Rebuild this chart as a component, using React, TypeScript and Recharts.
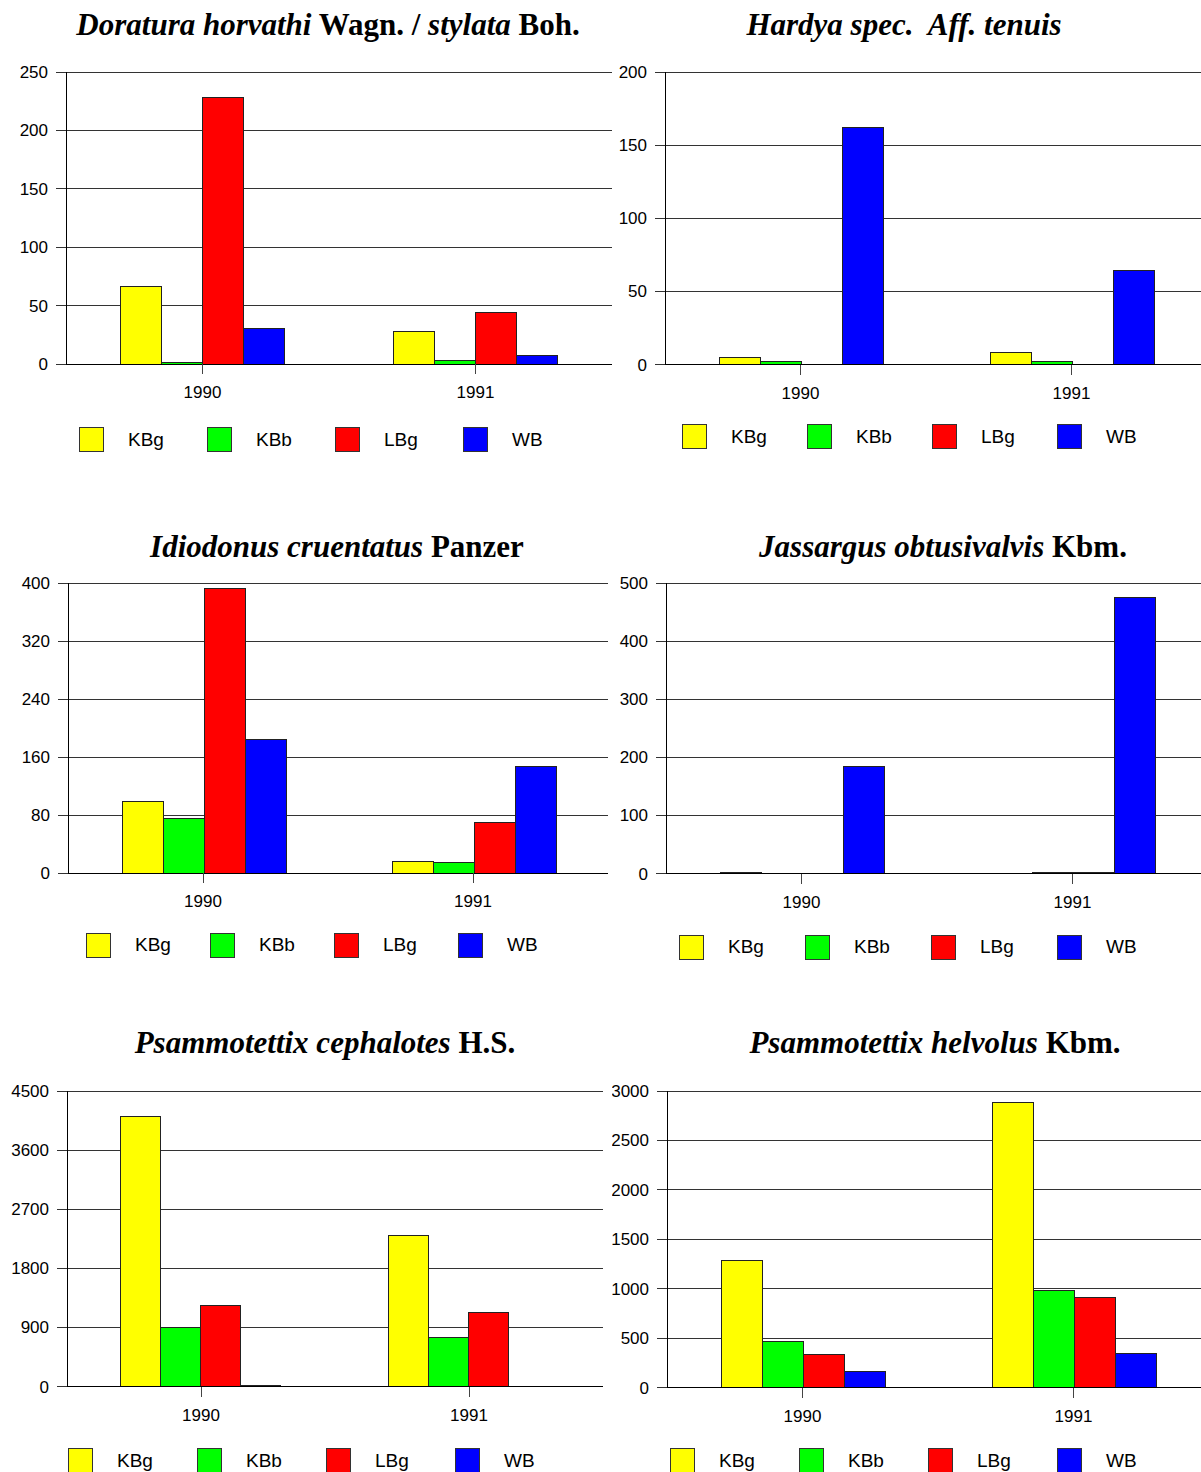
import React from "react";
import { BarChart, Bar, XAxis, YAxis, CartesianGrid, Legend } from "recharts";

const years = ["1990", "1991"];
const sites = ["KBg", "KBb", "LBg", "WB"];
const siteColors = ["#ffff00", "#00ff00", "#ff0000", "#0000ff"];

// counts per site (KBg, KBb, LBg, WB), each as [1990, 1991]
const doratura = [[66, 28], [1, 3], [228, 44], [30, 7]];
const hardya = [[5, 8], [2, 2], [0, 0], [162, 64]];
const idiodonus = [[99, 16], [75, 14], [393, 69], [184, 147]];
const jassargus = [[1, 0], [0, 1], [0, 1], [184, 475]];
const cephalotes = [[4110, 2300], [900, 750], [1230, 1125], [8, 3]];
const helvolus = [[1285, 2885], [468, 982], [338, 908], [160, 341]];

const doraturaTicks = [0, 50, 100, 150, 200, 250];
const hardyaTicks = [0, 50, 100, 150, 200];
const idiodonusTicks = [0, 80, 160, 240, 320, 400];
const jassargusTicks = [0, 100, 200, 300, 400, 500];
const cephalotesTicks = [0, 900, 1800, 2700, 3600, 4500];
const helvolusTicks = [0, 500, 1000, 1500, 2000, 2500, 3000];

// title pieces: [text, italic]
const doraturaTitle: [string, boolean][] = [["Doratura horvathi", true], [" Wagn. / ", false], ["stylata", true], [" Boh.", false]];
const hardyaTitle: [string, boolean][] = [["Hardya spec.  Aff. tenuis", true]];
const idiodonusTitle: [string, boolean][] = [["Idiodonus cruentatus", true], [" Panzer", false]];
const jassargusTitle: [string, boolean][] = [["Jassargus obtusivalvis", true], [" Kbm.", false]];
const cephalotesTitle: [string, boolean][] = [["Psammotettix cephalotes", true], [" H.S.", false]];
const helvolusTitle: [string, boolean][] = [["Psammotettix helvolus", true], [" Kbm.", false]];

const sans = "Arial, 'Liberation Sans', sans-serif";
const serif = "'Times New Roman', 'Liberation Serif', serif";

type Box = {
  left: number;
  axisX: number;
  plotTop: number;
  plotBottom: number;
  plotRight: number;
  legendX: number;
  legendY: number;
  legendStep: number;
  titleX: number;
  titleBase: number;
};

const boxes: Box[] = [
  { left: 0, axisX: 66, plotTop: 72, plotBottom: 364, plotRight: 612, legendX: 79, legendY: 439.5, legendStep: 128, titleX: 328, titleBase: 35 },
  { left: 612, axisX: 665, plotTop: 71.5, plotBottom: 364, plotRight: 1207, legendX: 682, legendY: 436.5, legendStep: 125, titleX: 904, titleBase: 35 },
  { left: 0, axisX: 68, plotTop: 582.5, plotBottom: 872.5, plotRight: 608, legendX: 86, legendY: 945, legendStep: 124, titleX: 337, titleBase: 557 },
  { left: 612, axisX: 666, plotTop: 582.5, plotBottom: 873, plotRight: 1208, legendX: 679, legendY: 947, legendStep: 126, titleX: 943, titleBase: 557 },
  { left: 0, axisX: 67, plotTop: 1090.5, plotBottom: 1386, plotRight: 603, legendX: 68, legendY: 1460.5, legendStep: 129, titleX: 325, titleBase: 1053 },
  { left: 612, axisX: 667, plotTop: 1090.5, plotBottom: 1387, plotRight: 1209, legendX: 670, legendY: 1460.5, legendStep: 129, titleX: 935, titleBase: 1053 },
];

const AXIS_H = 40;

function Panel({ values, ticks, title, box }: { values: number[][]; ticks: number[]; title: [string, boolean][]; box: Box }) {
  const rows = years.map((year, i) => {
    const row: Record<string, string | number> = { year };
    sites.forEach((s, j) => {
      row[s] = values[j][i];
    });
    return row;
  });

  const top = box.plotTop - 12;
  const height = box.legendY + 20 - top;
  const width = box.plotRight + 4 - box.left;
  const margin = { top: 12, right: 4, left: 0, bottom: height - (box.plotBottom - top) - AXIS_H };

  return (
    <>
      <div
        style={{
          position: "absolute",
          left: box.titleX - 400,
          width: 800,
          top: box.titleBase - 26,
          textAlign: "center",
          fontFamily: serif,
          fontWeight: "bold",
          fontSize: 31,
          lineHeight: "31px",
          whiteSpace: "pre",
          color: "#000",
        }}
      >
        {title.map(([t, it], k) => (
          <span key={k} style={{ fontStyle: it ? "italic" : "normal" }}>
            {t}
          </span>
        ))}
      </div>
      <div style={{ position: "absolute", left: box.left, top }}>
        <BarChart width={width} height={height} data={rows} margin={margin} barCategoryGap="20%" barGap={0}>
          <CartesianGrid vertical={false} stroke="#333" shapeRendering="crispEdges" />
          <XAxis
            dataKey="year"
            height={AXIS_H}
            tickSize={10}
            tickMargin={12}
            axisLine={{ stroke: "#000", shapeRendering: "crispEdges" }}
            tickLine={{ stroke: "#444", shapeRendering: "crispEdges" }}
            tick={{ fill: "#000", fontSize: 17, fontFamily: sans }}
          />
          <YAxis
            width={box.axisX - box.left}
            domain={[0, ticks[ticks.length - 1]]}
            ticks={ticks}
            interval={0}
            tickSize={10}
            tickMargin={8}
            axisLine={{ stroke: "#000", shapeRendering: "crispEdges" }}
            tickLine={{ stroke: "#333", shapeRendering: "crispEdges" }}
            tick={{ fill: "#000", fontSize: 17, fontFamily: sans }}
          />
          {sites.map((s, j) => (
            <Bar
              key={s}
              dataKey={s}
              fill={siteColors[j]}
              stroke="#222"
              strokeWidth={1}
              shapeRendering="crispEdges"
              isAnimationActive={false}
            />
          ))}
          <Legend
            verticalAlign="middle"
            align="center"
            wrapperStyle={{
              left: box.legendX - box.left,
              top: box.legendY - 12.5 - top,
              width: 4 * box.legendStep,
              height: 25,
            }}
            content={() => (
              <div style={{ position: "relative", height: 25 }}>
                {sites.map((s, j) => (
                  <div
                    key={s}
                    style={{ position: "absolute", left: j * box.legendStep, top: 0, display: "flex", alignItems: "center", height: 25 }}
                  >
                    <span
                      style={{
                        display: "inline-block",
                        width: 23,
                        height: 23,
                        background: siteColors[j],
                        border: "1px solid #333",
                      }}
                    />
                    <span style={{ marginLeft: 24, fontSize: 19, fontFamily: sans, color: "#000" }}>{s}</span>
                  </div>
                ))}
              </div>
            )}
          />
        </BarChart>
      </div>
    </>
  );
}

export default function App() {
  return (
    <div
      style={{
        position: "absolute",
        left: 0,
        top: 0,
        width: 1201,
        height: 1472,
        overflow: "hidden",
        background: "#fff",
      }}
    >
      <Panel values={doratura} ticks={doraturaTicks} title={doraturaTitle} box={boxes[0]} />
      <Panel values={hardya} ticks={hardyaTicks} title={hardyaTitle} box={boxes[1]} />
      <Panel values={idiodonus} ticks={idiodonusTicks} title={idiodonusTitle} box={boxes[2]} />
      <Panel values={jassargus} ticks={jassargusTicks} title={jassargusTitle} box={boxes[3]} />
      <Panel values={cephalotes} ticks={cephalotesTicks} title={cephalotesTitle} box={boxes[4]} />
      <Panel values={helvolus} ticks={helvolusTicks} title={helvolusTitle} box={boxes[5]} />
    </div>
  );
}
